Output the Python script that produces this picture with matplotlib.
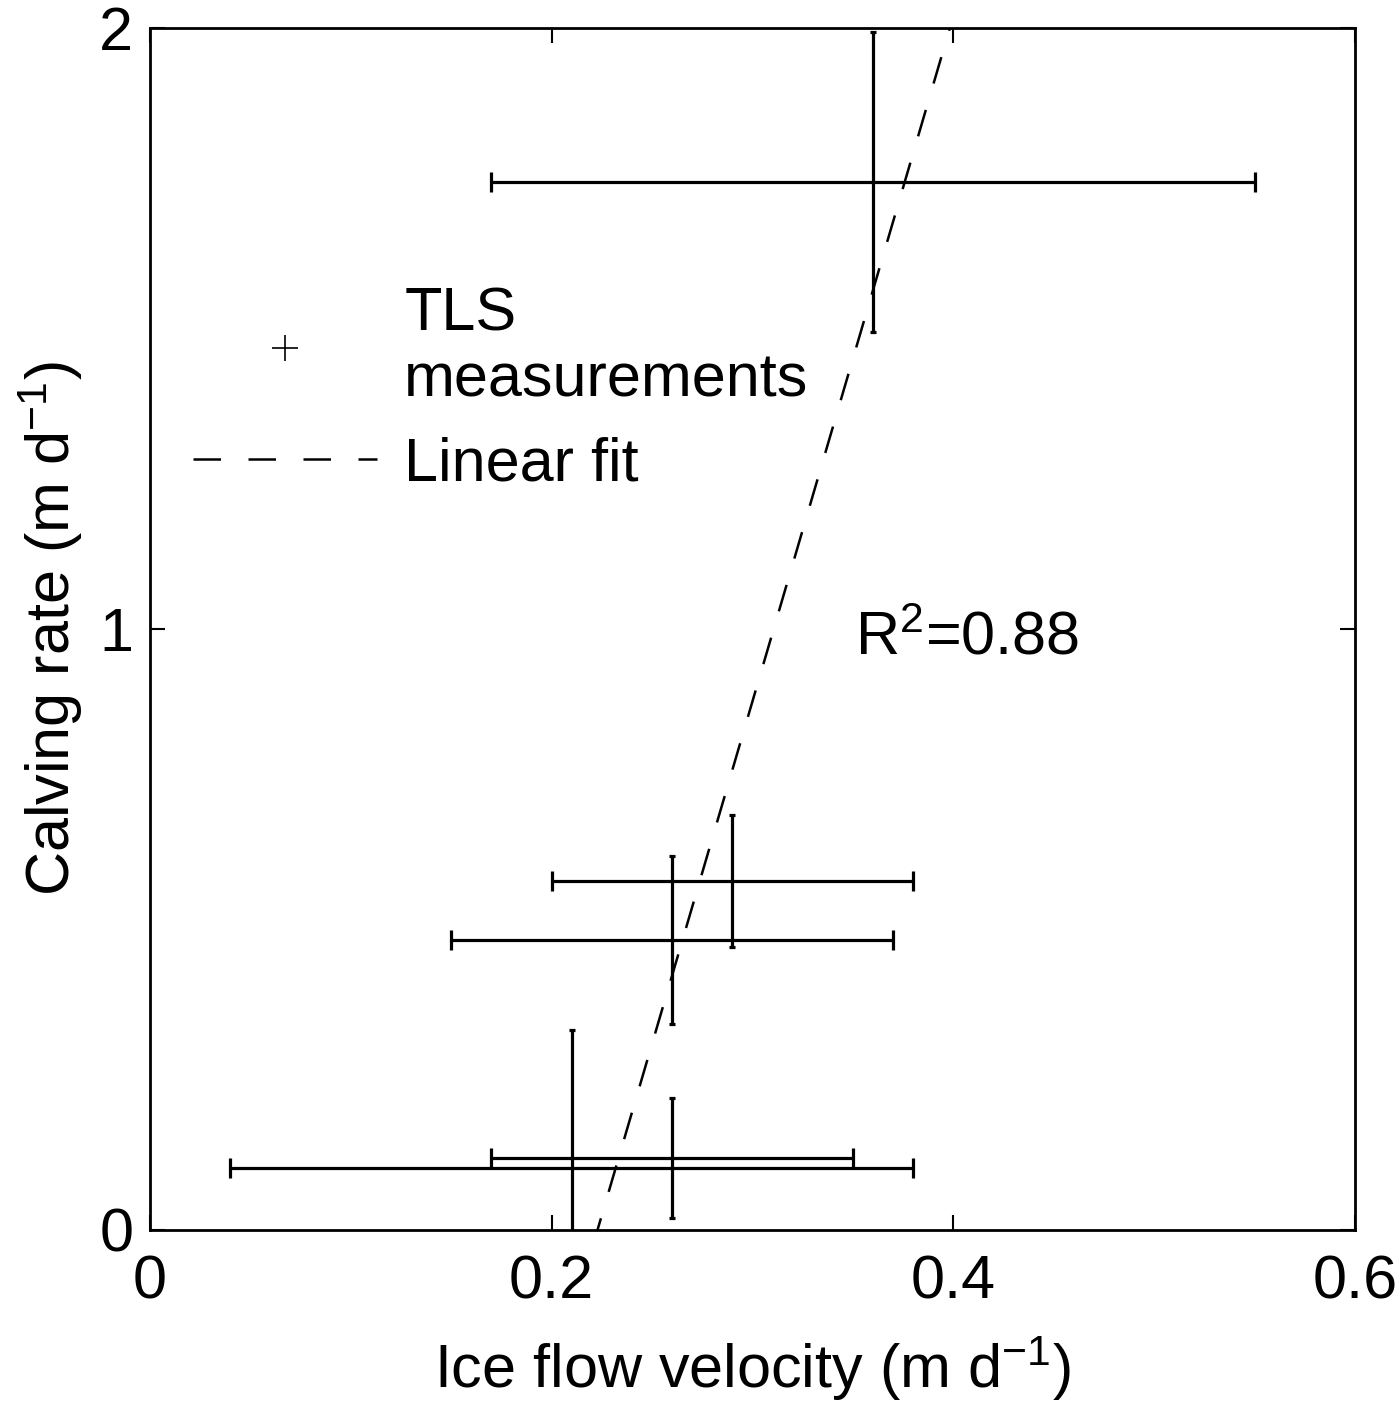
import numpy as np
import matplotlib
matplotlib.use("Agg")
import matplotlib.pyplot as plt
from matplotlib.lines import Line2D

# Data
velocity = [0.36, 0.29, 0.26, 0.21, 0.26]
velocity_err = [0.19, 0.09, 0.11, 0.17, 0.09]
calving = [1.744, 0.581, 0.483, 0.103, 0.120]
calving_err = [0.25, 0.11, 0.14, 0.23, 0.10]
r2_label = "R$^{2}$=0.88"
xticks = [0, 0.2, 0.4, 0.6]
xtick_labels = ["0", "0.2", "0.4", "0.6"]
yticks = [0, 1, 2]
ytick_labels = ["0", "1", "2"]

plt.rcParams["font.family"] = ["Liberation Sans", "DejaVu Sans"]
plt.rcParams["mathtext.fontset"] = "custom"
plt.rcParams["mathtext.rm"] = "Liberation Sans"
plt.rcParams["mathtext.it"] = "Liberation Sans"
plt.rcParams["mathtext.default"] = "regular"

FS = 44
LW = 2.3

fig = plt.figure(figsize=(14, 14.02), dpi=100)
ax = fig.add_axes([0.1071, 0.1227, 0.8608, 0.8573])

# x error bars (wide caps)
ax.errorbar(velocity, calving, xerr=velocity_err, fmt="none", ecolor="black",
            elinewidth=LW, capsize=7.5, capthick=LW, zorder=3)
# y error bars (small caps)
ax.errorbar(velocity, calving, yerr=calving_err, fmt="none", ecolor="black",
            elinewidth=LW, capsize=2.5, capthick=LW, zorder=3)
ax.plot(velocity, calving, linestyle="none", marker="+", color="black",
        markersize=14, markeredgewidth=1.2, zorder=4)

# linear fit
coef = np.polyfit(velocity, calving, 1)
xf = np.array([0.0, 0.6])
ax.plot(xf, np.polyval(coef, xf), color="black", linewidth=1.8,
        linestyle=(0, (11, 11)), zorder=2)

ax.text(0.351, 0.957, r2_label, fontsize=FS, ha="left", va="baseline")

ax.set_xlim(0, 0.6)
ax.set_ylim(0, 2)
ax.set_xticks(xticks)
ax.set_xticklabels(xtick_labels)
ax.set_yticks(yticks)
ax.set_yticklabels(ytick_labels)
ax.tick_params(direction="in", length=11, width=1.5, top=True, right=True,
               labelsize=FS, pad=12)
ax.tick_params(axis="x", pad=18)
for s in ax.spines.values():
    s.set_linewidth(2.0)

ax.set_xlabel("Ice flow velocity (m d$^{-1}$)", fontsize=FS, labelpad=16)
ax.set_ylabel("Calving rate (m d$^{-1}$)", fontsize=FS, labelpad=10)

handles = [
    Line2D([], [], linestyle="none", marker="+", color="black",
           markersize=19, markeredgewidth=1.2),
    Line2D([], [], color="black", linewidth=1.8, linestyle=(0, (11, 11))),
]
labels = ["TLS\nmeasurements", "Linear fit"]
ax.legend(handles, labels, loc="upper left", bbox_to_anchor=(0.036, 0.785),
          frameon=False, fontsize=FS, handlelength=3.0, handletextpad=0.45,
          borderpad=0, borderaxespad=0, labelspacing=0.45)

fig.savefig("out.png", dpi=100)
